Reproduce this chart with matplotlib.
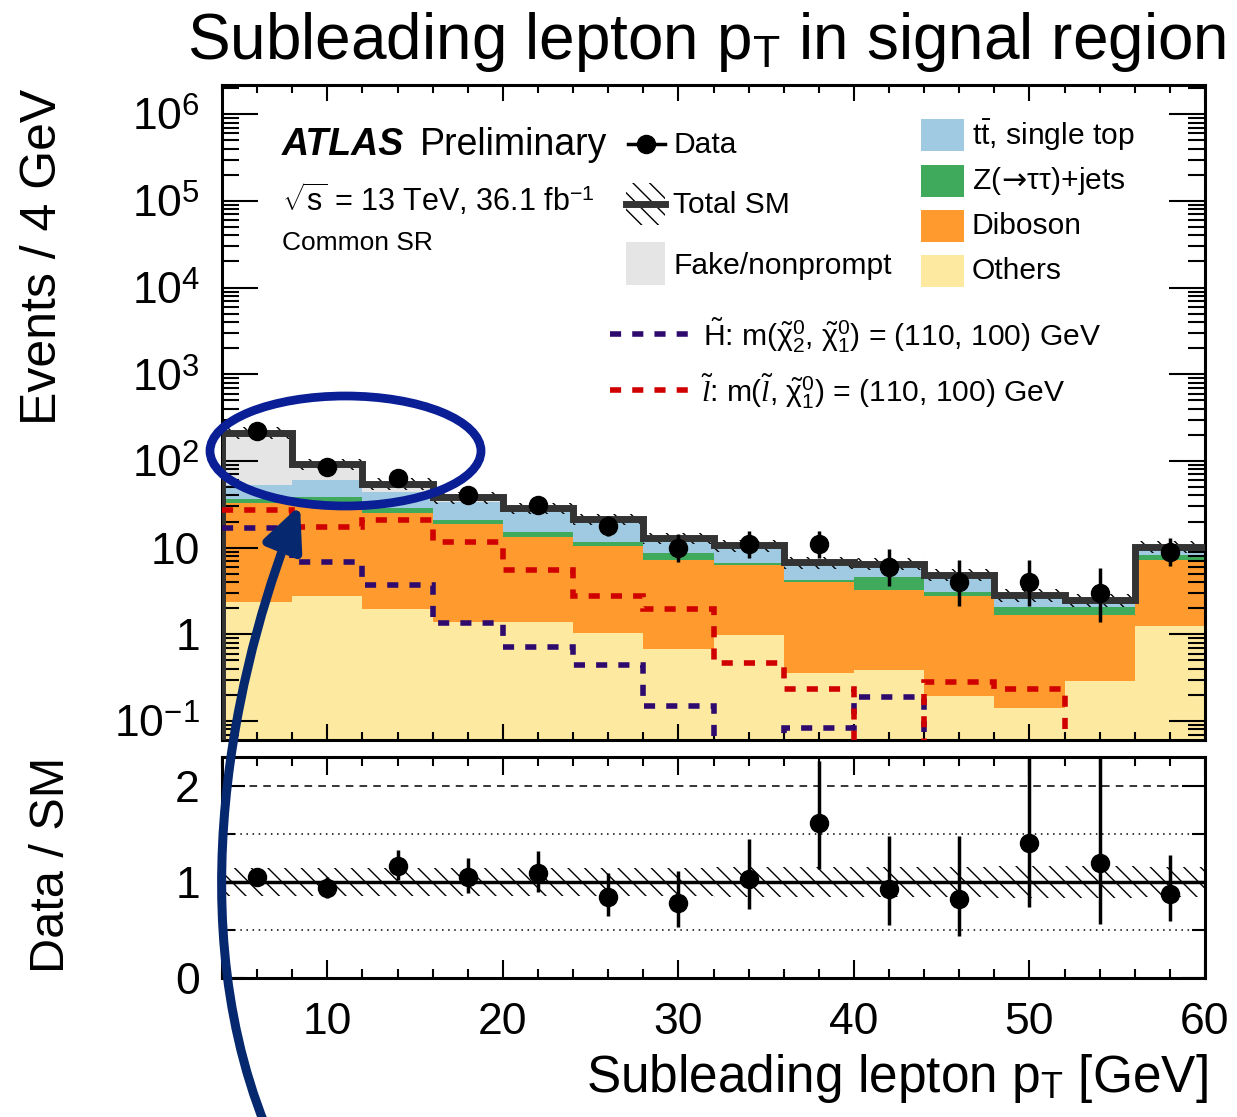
import numpy as np
import matplotlib
matplotlib.use("Agg")
import matplotlib.pyplot as plt
from matplotlib.patches import Rectangle, Ellipse, FancyArrowPatch
from matplotlib.lines import Line2D
from matplotlib.path import Path
from matplotlib.ticker import FixedLocator, FixedFormatter, LogLocator, NullFormatter, MultipleLocator

plt.rcParams['font.family'] = ['Liberation Sans', 'DejaVu Sans']
plt.rcParams['mathtext.fontset'] = 'custom'
plt.rcParams['mathtext.rm'] = 'Liberation Sans'
plt.rcParams['mathtext.it'] = 'Liberation Serif:italic'
plt.rcParams['mathtext.bf'] = 'Liberation Sans:bold'
plt.rcParams['mathtext.sf'] = 'DejaVu Sans'
plt.rcParams['hatch.linewidth'] = 1.0

# --- data (4 GeV bins from 4 to 60 GeV) ---
edges = np.arange(4, 61, 4)
others  = [2.38, 2.77, 1.96, 1.40, 1.38, 1.05, 0.68, 0.98, 0.36, 0.39, 0.195, 0.141, 0.29, 1.25]
diboson = [30.1, 30.2, 23.0, 17.6, 12.0, 9.45, 6.5, 5.3, 3.7, 2.86, 2.58, 1.53, 1.38, 6.05]
ztautau = [3.9, 5.7, 3.5, 2.0, 1.9, 1.2, 1.5, 0.4, 0.15, 1.35, 0.33, 0.42, 0.42, 0.9]
top     = [16.4, 21.3, 15.5, 13.0, 10.7, 8.1, 3.3, 3.2, 2.0, 1.5, 1.4, 0.58, 0.29, 1.4]
fake    = [160, 32, 11, 4.0, 2.5, 1.6, 0.9, 0.8, 0.6, 0.4, 0.35, 0.18, 0.12, 0.65]
syst    = [0.15, 0.15, 0.15, 0.15, 0.15, 0.15, 0.15, 0.16, 0.16, 0.16, 0.16, 0.17, 0.17, 0.16]

data        = [223, 86, 64, 40, 31, 18, 10, 11, 11, 6, 4, 4, 3, 9]
data_err_lo = [14.9, 9.3, 8.0, 6.3, 5.5, 4.2, 3.1, 3.3, 3.3, 2.4, 1.9, 1.9, 1.6, 2.9]
data_err_hi = [15.9, 10.3, 9.0, 7.4, 6.6, 5.3, 4.3, 4.4, 4.4, 3.6, 3.2, 3.2, 2.9, 4.1]

higgsino = [17.0, 6.8, 3.7, 1.37, 0.71, 0.44, 0.149, 0, 0.084, 0.19, 0, 0, 0, 0]
slepton  = [27.2, 17.5, 20.9, 11.7, 5.5, 2.77, 1.95, 0.47, 0.233, 0, 0.28, 0.233, 0, 0]

c_others, c_dib, c_z, c_top, c_fake = '#fee9a0', '#fe9a2e', '#40aa5c', '#9fcae1', '#e5e5e5'
c_total = '#333333'
c_hig, c_slep = '#2e0a6e', '#d00000'

W, H = 1237, 1117
def fx(px):
    return px / W
def fy(py):
    return 1 - py / H

fig = plt.figure(figsize=(W / 100, H / 100), dpi=100)
ax = fig.add_axes([fx(222), fy(740), (1205 - 222) / W, (740 - 85) / H])
rax = fig.add_axes([fx(222), fy(978), (1205 - 222) / W, (978 - 757) / H])

centers = 0.5 * (edges[:-1] + edges[1:])
layers = [np.array(v, float) for v in (others, diboson, ztautau, top, fake)]
cum = np.cumsum(layers, axis=0)
total = cum[-1]
floor = 1e-3

# stacked backgrounds: paint cumulative levels from the top down
for level, col in zip(cum[::-1], [c_fake, c_top, c_z, c_dib, c_others]):
    ax.stairs(level, edges, baseline=floor, fill=True, color=col, lw=0, zorder=1)

u = np.array(syst)
ax.stairs(total * (1 + u), edges, baseline=total * (1 - u), fill=True, hatch='\\\\',
          facecolor='none', edgecolor='k', lw=0, zorder=2)
ax.stairs(total, edges, baseline=None, color=c_total, lw=5, zorder=3)
ax.vlines(edges[0], floor, total[0], color=c_total, lw=5, zorder=3)

for sig, col in ((higgsino, c_hig), (slepton, c_slep)):
    v = np.array(sig, float)
    ax.stairs(np.where(v > 0, v, floor), edges, baseline=None, color=col, lw=4,
              ls=(0, (2, 2)), zorder=4)

ax.errorbar(centers, data, yerr=[data_err_lo, data_err_hi], fmt='o', color='k', ms=13,
            elinewidth=2.5, capsize=0, zorder=5)

ax.set_yscale('log')
ax.set_xlim(4, 60)
ax.set_ylim(0.0605, 2.17e6)
decades = [0.1, 1, 10, 1e2, 1e3, 1e4, 1e5, 1e6]
ax.yaxis.set_major_locator(FixedLocator(decades))
ax.yaxis.set_major_formatter(FixedFormatter(['$10^{-1}$', '1', '10', '$10^{2}$', '$10^{3}$',
                                             '$10^{4}$', '$10^{5}$', '$10^{6}$']))
ax.yaxis.set_minor_locator(LogLocator(base=10, subs=np.arange(2, 10), numticks=20))
ax.yaxis.set_minor_formatter(NullFormatter())
ax.xaxis.set_major_locator(MultipleLocator(10))
ax.xaxis.set_minor_locator(MultipleLocator(2))
ax.tick_params(which='both', direction='in', top=True, right=True, width=1.5,
               labelsize=32, labelbottom=False)
ax.tick_params(axis='y', which='major', length=26, pad=16)
ax.tick_params(axis='y', which='minor', length=12.5)
ax.tick_params(axis='x', which='major', length=11.5)
ax.tick_params(axis='x', which='minor', length=5.8)

# ratio panel
ratio = np.array(data) / total
r_lo = np.array(data_err_lo) / total
r_hi = np.array(data_err_hi) / total
rax.stairs(1 + u, edges, baseline=1 - u, fill=True, hatch='\\\\', facecolor='none',
           edgecolor='k', lw=0, zorder=1)
rax.axhline(1, color='k', lw=2.5, zorder=2)
rax.axhline(2, color='k', lw=1.1, ls=(0, (5, 4)), zorder=2)
rax.axhline(1.5, color='k', lw=1.1, ls=(0, (1, 3)), zorder=2)
rax.axhline(0.5, color='k', lw=1.1, ls=(0, (1, 3)), zorder=2)
rax.errorbar(centers, ratio, yerr=[r_lo, r_hi], fmt='o', color='k', ms=13,
             elinewidth=2.5, capsize=0, zorder=5)
rax.set_xlim(4, 60)
rax.set_ylim(0, 2.3)
rax.set_yticks([0, 1, 2])
rax.yaxis.set_minor_locator(FixedLocator([0.5, 1.5]))
rax.xaxis.set_major_locator(MultipleLocator(10))
rax.xaxis.set_minor_locator(MultipleLocator(2))
rax.tick_params(which='both', direction='in', top=True, right=True, width=1.5, labelsize=32)
rax.tick_params(axis='x', which='major', length=13, pad=17)
rax.tick_params(axis='x', which='minor', length=6.5)
rax.tick_params(axis='y', which='major', length=16.5, pad=16)
rax.tick_params(axis='y', which='minor', length=9.5)

for a in (ax, rax):
    for s in a.spines.values():
        s.set_linewidth(2.2)

# titles and axis labels
fig.text(fx(707), fy(59), r'Subleading lepton p$_{\mathrm{T}}$ in signal region',
         ha='center', va='baseline', fontsize=46)
fig.text(fx(1208), fy(1092), r'Subleading lepton p$_{\mathrm{T}}$ [GeV]',
         ha='right', va='baseline', fontsize=37)
fig.text(fx(43), fy(257), 'Events / 4 GeV', rotation=90, ha='center', va='center', fontsize=36)
fig.text(fx(52), fy(865), 'Data / SM', rotation=90, ha='center', va='center', fontsize=35)

# ATLAS label
fig.text(fx(282), fy(155), 'ATLAS', fontsize=27, fontweight='bold', fontstyle='italic',
         va='baseline')
fig.text(fx(420), fy(155), 'Preliminary', fontsize=27, va='baseline')
fig.text(fx(282), fy(211), r'$\sqrt{\mathrm{s}}$ = 13 TeV, 36.1 fb$^{-1}$', fontsize=22,
         va='baseline')
fig.text(fx(282), fy(250), 'Common SR', fontsize=19, va='baseline')

# legend, left column
fig.add_artist(Line2D([fx(628), fx(665)], [fy(144), fy(144)], color='k', lw=2.5,
                      transform=fig.transFigure))
fig.add_artist(Line2D([fx(646)], [fy(144)], marker='o', ms=13, color='k',
                      transform=fig.transFigure))
fig.text(fx(673), fy(145), 'Data', fontsize=21.6, va='center')
fig.add_artist(Rectangle((fx(626), fy(225)), 39 / W, 42 / H, hatch='\\\\', facecolor='none',
                         edgecolor='k', lw=0, transform=fig.transFigure))
fig.add_artist(Line2D([fx(626), fx(665)], [fy(204), fy(204)], color=c_total, lw=5,
                      transform=fig.transFigure))
fig.text(fx(673), fy(205), 'Total SM', fontsize=21.6, va='center')
fig.add_artist(Rectangle((fx(626), fy(285)), 39 / W, 43 / H, facecolor=c_fake, lw=0,
                         transform=fig.transFigure))
fig.text(fx(673), fy(266), 'Fake/nonprompt', fontsize=21.6, va='center')

# legend, right column
right_items = [(c_top, r't$\bar{\mathrm{t}}$, single top', 135),
               (c_z, r'Z($\!\mathsf{\rightarrow}\!$ττ)+jets', 181),
               (c_dib, 'Diboson', 226),
               (c_others, 'Others', 271)]
for col, lab, yc in right_items:
    fig.add_artist(Rectangle((fx(921), fy(yc + 16)), 43 / W, 32 / H, facecolor=col, lw=0,
                             transform=fig.transFigure))
    fig.text(fx(972), fy(yc), lab, fontsize=21.6, va='center')

# signal legend
fig.add_artist(Line2D([fx(610), fx(690)], [fy(334), fy(334)], color=c_hig, lw=4,
                      ls=(0, (2, 2)), transform=fig.transFigure))
fig.text(fx(703), fy(336),
         r'$\tilde{\mathrm{H}}$: m($\tilde{\mathrm{\chi}}_{2}^{0}$, $\tilde{\mathrm{\chi}}_{1}^{0}$) = (110, 100) GeV',
         fontsize=21.6, va='center')
fig.add_artist(Line2D([fx(610), fx(690)], [fy(390), fy(390)], color=c_slep, lw=4,
                      ls=(0, (2, 2)), transform=fig.transFigure))
fig.text(fx(701), fy(392),
         r'$\tilde{l}$: m($\tilde{l}$, $\tilde{\mathrm{\chi}}_{1}^{0}$) = (110, 100) GeV',
         fontsize=21.6, va='center')

# highlight ellipse and arrow
fig.add_artist(Ellipse((fx(345.5), fy(451)), 271 / W, 110 / H, fill=False, edgecolor='#0a1e96',
                       lw=6.3, transform=fig.transFigure, zorder=10))
verts = [(fx(265), fy(1125)), (fx(175), fy(900)), (fx(245), fy(640)), (fx(300), fy(505))]
arrow = FancyArrowPatch(path=Path(verts, [Path.MOVETO, Path.CURVE4, Path.CURVE4, Path.CURVE4]),
                        arrowstyle='-|>,head_length=26,head_width=12', mutation_scale=1,
                        color='#06286e', lw=6.5, transform=fig.transFigure, zorder=10)
fig.add_artist(arrow)

fig.savefig('out.png', dpi=100)
